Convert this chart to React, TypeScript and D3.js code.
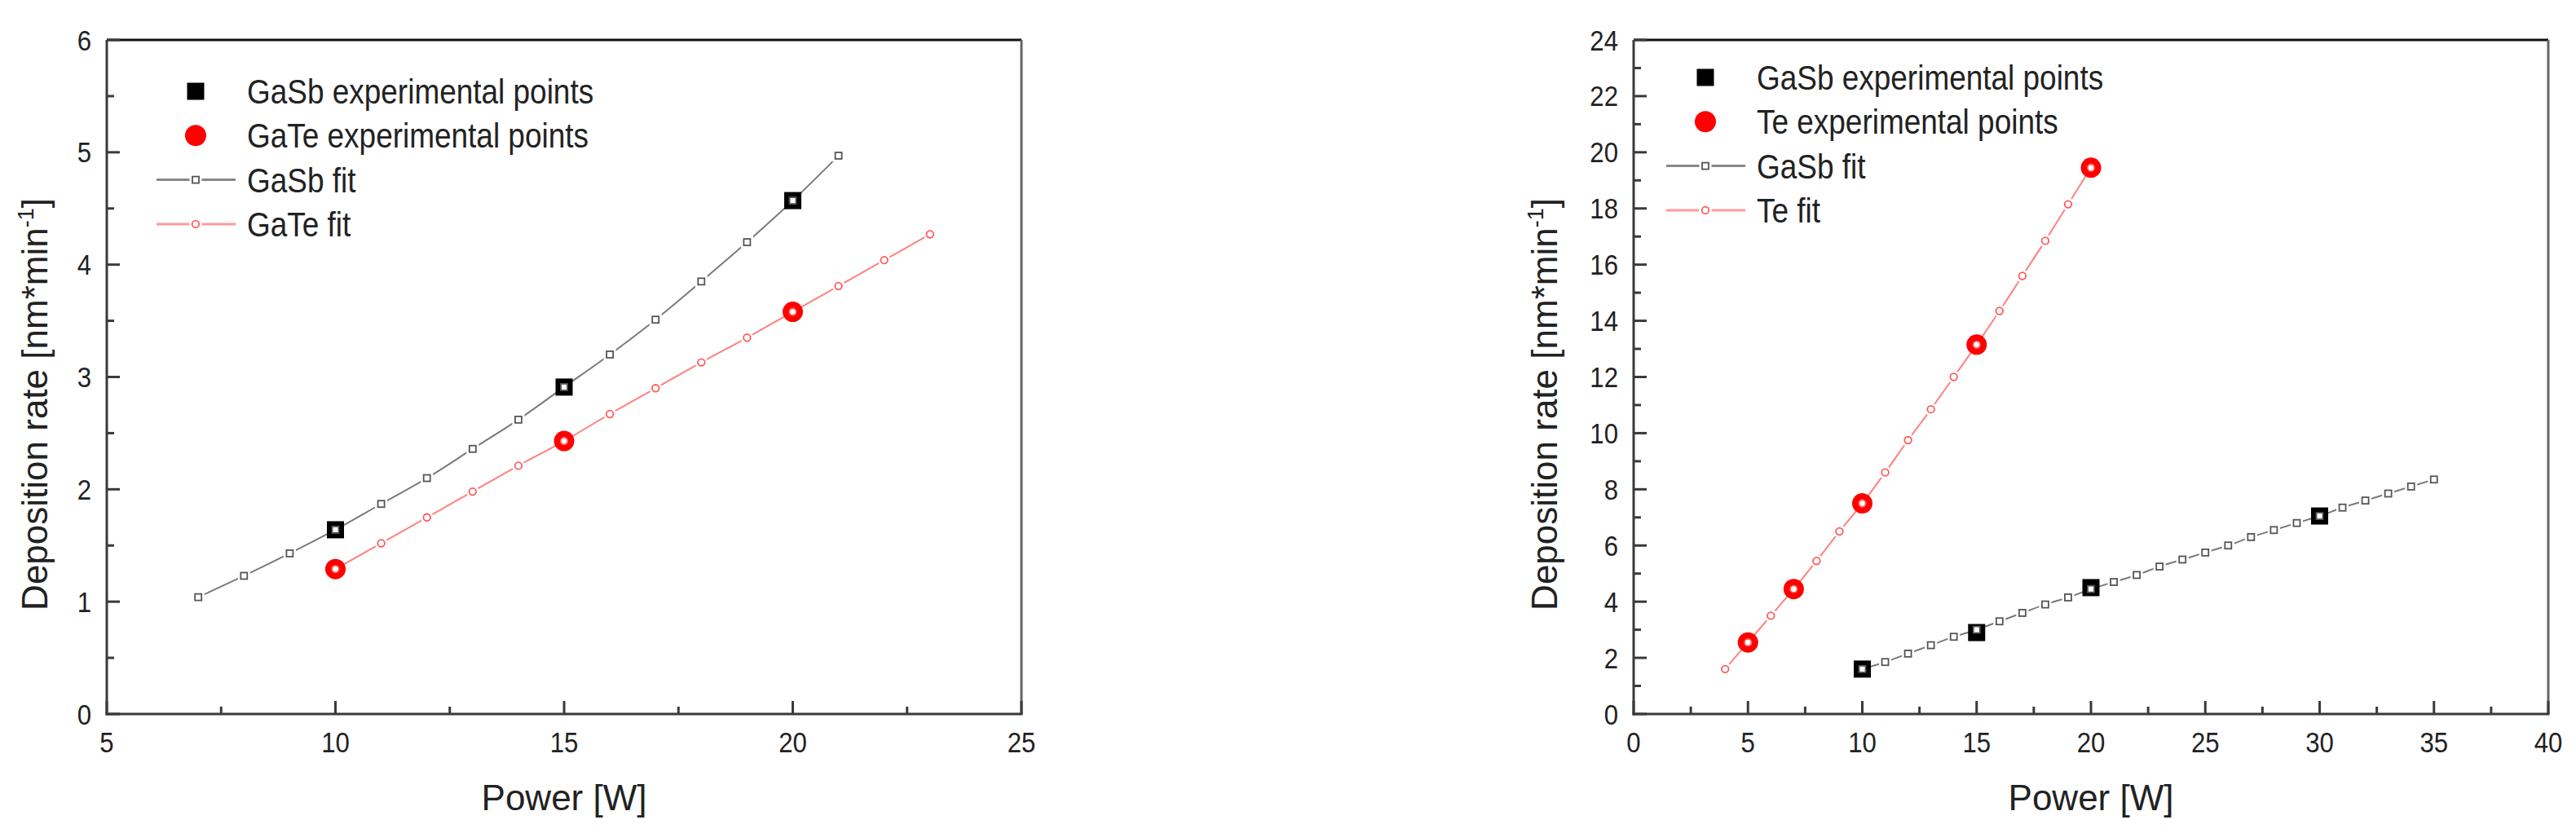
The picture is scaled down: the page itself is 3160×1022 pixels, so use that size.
import React from 'react';
import * as d3 from 'd3';

// ---------- DATA ----------
// Left panel
const leftXTicks = [5, 10, 15, 20, 25];
const leftYTicks = [0, 1, 2, 3, 4, 5, 6];
const leftGaSbExpX = [10, 15, 20];
const leftGaSbExpY = [1.64, 2.91, 4.57];
const leftGaTeExpX = [10, 15, 20];
const leftGaTeExpY = [1.29, 2.43, 3.58];
const leftGaSbFitX = [7, 8, 9, 10, 11, 12, 13, 14, 15, 16, 17, 18, 19, 20, 21];
const leftGaSbFitY = [1.04, 1.23, 1.43, 1.64, 1.87, 2.1, 2.36, 2.62, 2.91, 3.2, 3.51, 3.85, 4.2, 4.57, 4.97];
const leftGaTeFitX = [10, 11, 12, 13, 14, 15, 16, 17, 18, 19, 20, 21, 22, 23];
const leftGaTeFitY = [1.29, 1.52, 1.75, 1.98, 2.21, 2.43, 2.67, 2.9, 3.13, 3.35, 3.58, 3.81, 4.04, 4.27];
const leftLegend = ['GaSb experimental points', 'GaTe experimental points', 'GaSb fit', 'GaTe fit'];

// Right panel
const rightXTicks = [0, 5, 10, 15, 20, 25, 30, 35, 40];
const rightYTicks = [0, 2, 4, 6, 8, 10, 12, 14, 16, 18, 20, 22, 24];
const rightGaSbExpX = [10, 15, 20, 30];
const rightGaSbExpY = [1.6, 2.9, 4.5, 7.05];
const rightTeExpX = [5, 7, 10, 15, 20];
const rightTeExpY = [2.55, 4.45, 7.5, 13.15, 19.45];
const rightGaSbFitX = [10, 11, 12, 13, 14, 15, 16, 17, 18, 19, 20, 21, 22, 23, 24, 25, 26, 27, 28, 29, 30, 31, 32, 33, 34, 35];
const rightGaSbFitY = [1.6, 1.85, 2.15, 2.45, 2.75, 3.0, 3.3, 3.6, 3.9, 4.15, 4.45, 4.7, 4.95, 5.25, 5.5, 5.75, 6.0, 6.3, 6.55, 6.8, 7.05, 7.35, 7.6, 7.85, 8.1, 8.35];
const rightTeFitX = [4, 5, 6, 7, 8, 9, 10, 11, 12, 13, 14, 15, 16, 17, 18, 19, 20];
const rightTeFitY = [1.6, 2.55, 3.5, 4.45, 5.45, 6.5, 7.5, 8.6, 9.75, 10.85, 12.0, 13.15, 14.35, 15.6, 16.85, 18.15, 19.45];
const rightLegend = ['GaSb experimental points', 'Te experimental points', 'GaSb fit', 'Te fit'];

const xTitle = 'Power [W]';

// ---------- STYLE ----------
const FONT = '"Liberation Sans", Arial, Helvetica, sans-serif';
const GRAY_LINE = '#7a7a7a';
const GRAY_MARK = '#555';
const PINK_LINE = '#ff8080';
const PINK_MARK = '#ff5a5a';
const AXIS = '#3a3a3a';
const TEXT = '#222';

type Pt = [number, number];
const zip = (xs: number[], ys: number[]): Pt[] => xs.map((x, i) => [x, ys[i]]);

interface PanelProps {
  xDomain: [number, number];
  xRange: [number, number];
  yDomain: [number, number];
  yRange: [number, number];
  xTicks: number[];
  yTicks: number[];
  xMinorStep: number;
  yMinorStep: number;
  sqExp: Pt[];
  ciExp: Pt[];
  sqFit: Pt[];
  ciFit: Pt[];
  legend: string[];
  legendX: number;
  legendY: number;
  yTitleX: number;
}

function Panel(p: PanelProps) {
  const xs = d3.scaleLinear().domain(p.xDomain).range(p.xRange);
  const ys = d3.scaleLinear().domain(p.yDomain).range(p.yRange);
  const [x0, x1] = p.xRange;
  const [y0, y1] = p.yRange;
  const line = d3.line<Pt>().x(d => xs(d[0])).y(d => ys(d[1])).curve(d3.curveMonotoneX);

  const xMinor = d3.range(p.xDomain[0], p.xDomain[1] + 1e-9, p.xMinorStep).filter(v => !p.xTicks.some(t => Math.abs(t - v) < 1e-9));
  const yMinor = d3.range(p.yDomain[0], p.yDomain[1] + 1e-9, p.yMinorStep).filter(v => !p.yTicks.some(t => Math.abs(t - v) < 1e-9));

  const majorLen = 16;
  const minorLen = 9;
  const sq = 21;
  const cr = 12.5;
  const fsq = 8;
  const fcr = 4.3;
  const gap = 3.5;
  const rowH = 54.3;
  const cxTitle = (x0 + x1) / 2;

  return (
    <g fontFamily={FONT}>
      {/* frame */}
      <line x1={x0} x2={x1} y1={y1} y2={y1} stroke="#111" strokeWidth={3} />
      <line x1={x1} x2={x1} y1={y1} y2={y0} stroke="#666" strokeWidth={3} />
      <line x1={x0} x2={x0} y1={y0 + 1.5} y2={y1} stroke={AXIS} strokeWidth={3} />
      <line x1={x0 - 1.5} x2={x1 + 1.5} y1={y0} y2={y0} stroke={AXIS} strokeWidth={3} />

      {/* ticks */}
      {p.xTicks.map(t => (
        <g key={'xt' + t}>
          <line x1={xs(t)} x2={xs(t)} y1={y0} y2={y0 - majorLen} stroke={AXIS} strokeWidth={3} />
          <text transform={`translate(${xs(t)},${923}) scale(0.89,1)`} textAnchor="middle" fontSize={35} fill={TEXT}>{t}</text>
        </g>
      ))}
      {xMinor.map(t => (
        <line key={'xm' + t} x1={xs(t)} x2={xs(t)} y1={y0} y2={y0 - minorLen} stroke={AXIS} strokeWidth={3} />
      ))}
      {p.yTicks.map(t => (
        <g key={'yt' + t}>
          <line x1={x0} x2={x0 + majorLen} y1={ys(t)} y2={ys(t)} stroke={AXIS} strokeWidth={3} />
          <text transform={`translate(${x0 - 19},${ys(t) + 12.5}) scale(0.89,1)`} textAnchor="end" fontSize={35} fill={TEXT}>{t}</text>
        </g>
      ))}
      {yMinor.map(t => (
        <line key={'ym' + t} x1={x0} x2={x0 + minorLen} y1={ys(t)} y2={ys(t)} stroke={AXIS} strokeWidth={3} />
      ))}

      {/* axis titles */}
      <text x={cxTitle} y={994} textAnchor="middle" fontSize={44} fill={TEXT}>{xTitle}</text>
      <text transform={`translate(${p.yTitleX},496) rotate(-90)`} textAnchor="middle" fontSize={44} fill={TEXT}>
        Deposition rate [nm*min<tspan dy={-17} fontSize={27}>-1</tspan><tspan dy={17}>]</tspan>
      </text>

      {/* fit lines */}
      <path d={line(p.sqFit) || ''} fill="none" stroke={GRAY_LINE} strokeWidth={2} />
      <path d={line(p.ciFit) || ''} fill="none" stroke={PINK_LINE} strokeWidth={2} />

      {/* white gaps around fit markers */}
      {p.sqFit.map((d, i) => (
        <rect key={'sh' + i} x={xs(d[0]) - fsq / 2 - gap} y={ys(d[1]) - fsq / 2 - gap} width={fsq + 2 * gap} height={fsq + 2 * gap} fill="#fff" />
      ))}
      {p.ciFit.map((d, i) => (
        <circle key={'ch' + i} cx={xs(d[0])} cy={ys(d[1])} r={fcr + gap} fill="#fff" />
      ))}

      {/* experimental points */}
      {p.sqExp.map((d, i) => (
        <rect key={'se' + i} x={xs(d[0]) - sq / 2} y={ys(d[1]) - sq / 2} width={sq} height={sq} fill="#000" />
      ))}
      {p.ciExp.map((d, i) => (
        <circle key={'ce' + i} cx={xs(d[0])} cy={ys(d[1])} r={cr} fill="#ff0000" />
      ))}

      {/* fit markers */}
      {p.sqFit.map((d, i) => (
        <rect key={'sf' + i} x={xs(d[0]) - fsq / 2} y={ys(d[1]) - fsq / 2} width={fsq} height={fsq} fill="#fff" stroke={GRAY_MARK} strokeWidth={1.8} />
      ))}
      {p.ciFit.map((d, i) => (
        <circle key={'cf' + i} cx={xs(d[0])} cy={ys(d[1])} r={fcr} fill="#fff" stroke={PINK_MARK} strokeWidth={1.8} />
      ))}

      {/* legend */}
      <g>
        <rect x={p.legendX - sq / 2} y={p.legendY - sq / 2} width={sq} height={sq} fill="#000" />
        <circle cx={p.legendX} cy={p.legendY + rowH} r={13} fill="#ff0000" />
        <line x1={p.legendX - 48} x2={p.legendX + 49} y1={p.legendY + 2 * rowH} y2={p.legendY + 2 * rowH} stroke="#888" strokeWidth={3} />
        <rect x={p.legendX - fsq / 2 - gap} y={p.legendY + 2 * rowH - fsq / 2 - gap} width={fsq + 2 * gap} height={fsq + 2 * gap} fill="#fff" />
        <rect x={p.legendX - fsq / 2} y={p.legendY + 2 * rowH - fsq / 2} width={fsq} height={fsq} fill="#fff" stroke={GRAY_MARK} strokeWidth={1.8} />
        <line x1={p.legendX - 48} x2={p.legendX + 49} y1={p.legendY + 3 * rowH} y2={p.legendY + 3 * rowH} stroke="#ff9a9a" strokeWidth={3} />
        <circle cx={p.legendX} cy={p.legendY + 3 * rowH} r={fcr + gap} fill="#fff" />
        <circle cx={p.legendX} cy={p.legendY + 3 * rowH} r={fcr} fill="#fff" stroke={PINK_MARK} strokeWidth={1.8} />
        {p.legend.map((s, i) => (
          <text key={'lg' + i} transform={`translate(${p.legendX + 63},${p.legendY + i * rowH + 15}) scale(0.88,1)`} fontSize={42} fill={TEXT}>{s}</text>
        ))}
      </g>
    </g>
  );
}

export default function App() {
  return (
    <svg width={3160} height={1022} style={{ position: 'absolute', left: 0, top: 0, display: 'block', background: '#fff' }}>
      <rect x={0} y={0} width={3160} height={1022} fill="#fff" />
      <Panel
        xDomain={[5, 25]} xRange={[131, 1253]}
        yDomain={[0, 6]} yRange={[876, 49]}
        xTicks={leftXTicks} yTicks={leftYTicks}
        xMinorStep={2.5} yMinorStep={0.5}
        sqExp={zip(leftGaSbExpX, leftGaSbExpY)}
        ciExp={zip(leftGaTeExpX, leftGaTeExpY)}
        sqFit={zip(leftGaSbFitX, leftGaSbFitY)}
        ciFit={zip(leftGaTeFitX, leftGaTeFitY)}
        legend={leftLegend}
        legendX={240} legendY={112}
        yTitleX={58}
      />
      <Panel
        xDomain={[0, 40]} xRange={[2004, 3126]}
        yDomain={[0, 24]} yRange={[876, 49]}
        xTicks={rightXTicks} yTicks={rightYTicks}
        xMinorStep={2.5} yMinorStep={1}
        sqExp={zip(rightGaSbExpX, rightGaSbExpY)}
        ciExp={zip(rightTeExpX, rightTeExpY)}
        sqFit={zip(rightGaSbFitX, rightGaSbFitY)}
        ciFit={zip(rightTeFitX, rightTeFitY)}
        legend={rightLegend}
        legendX={2092} legendY={95}
        yTitleX={1910}
      />
    </svg>
  );
}
